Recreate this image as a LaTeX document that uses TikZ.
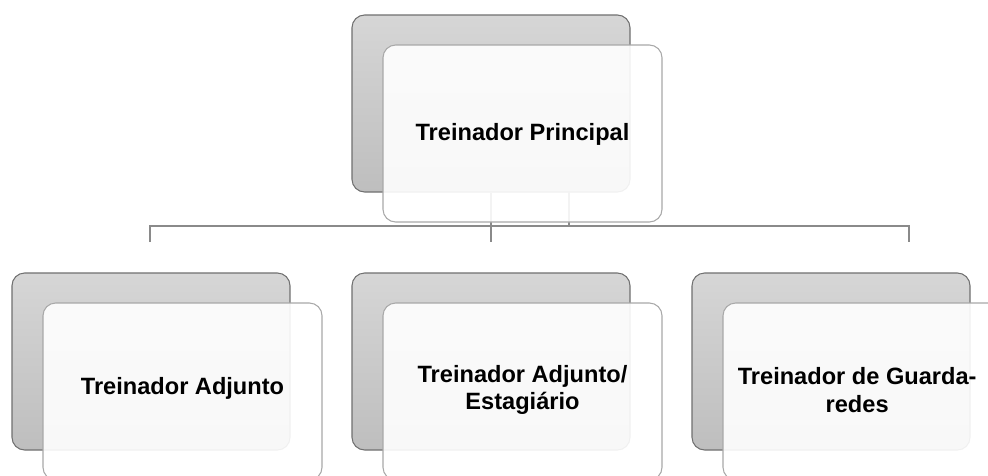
\documentclass[tikz,border=0pt]{standalone}
\usepackage{fontspec}
\setmainfont{Liberation Sans}
\definecolor{gtop}{HTML}{D6D6D6}
\definecolor{gbot}{HTML}{BEBEBE}
\definecolor{gedge}{HTML}{707070}
\definecolor{wedge}{HTML}{A8A8A8}
\definecolor{conn}{HTML}{8A8A8A}
\tikzset{
  graybox/.style={draw=gedge, line width=0.8pt, top color=gtop, bottom color=gbot,
    rounded corners=9.5pt, minimum width=208.5pt, minimum height=132.75pt, inner sep=0pt},
  whitebox/.style={draw=wedge, line width=0.8pt, fill=white, fill opacity=0.9,
    rounded corners=9.5pt, minimum width=209.25pt, minimum height=132.75pt, inner sep=0pt},
  boxtext/.style={font=\fontsize{17.7}{20.5}\selectfont\bfseries, align=center, text=black},
  connline/.style={draw=conn, line width=2.2pt}
}
\begin{document}
\begin{tikzpicture}[x=0.75pt, y=-0.75pt]
\useasboundingbox (0,0) rectangle (988,475);
\clip (0,0) rectangle (988,475);
\fill[white] (0,0) rectangle (988,475);
% gray back boxes
\node[graybox] (gtop) at (491,103.5) {};
\node[graybox] (g1) at (151,361.5) {};
\node[graybox] (g2) at (491,361.5) {};
\node[graybox] (g3) at (831,361.5) {};
% connectors
\coordinate (h1) at (150,226);
\coordinate (h3) at (909,226);
\coordinate (t1) at (150,242);
\coordinate (t2) at (491,242);
\coordinate (t3) at (909,242);
\coordinate (va) at (569,192);
\coordinate (vb) at (569,226);
\draw[connline] (t1) -- (h1) -- (h3) -- (t3);
\draw[connline] (gtop.south) -- (t2);
\draw[connline] (va) -- (vb);
% white front boxes
\node[whitebox] (wtop) at (522.5,133.5) {};
\node[whitebox] (w1) at (182.5,391.5) {};
\node[whitebox] (w2) at (522.5,391.5) {};
\node[whitebox] (w3) at (862.5,391.5) {};
% texts
\node[boxtext] (ltop) at ([yshift=-1pt]wtop.center) {Treinador Principal};
\node[boxtext] (l1) at ([yshift=2pt]w1.center) {Treinador Adjunto};
\node[boxtext] (l2) at ([yshift=1pt]w2.center) {Treinador Adjunto/\\Estagiário};
\node[boxtext] (l3) at ([xshift=-4pt,yshift=1pt]w3.center) {Treinador de Guarda-\\redes};
\end{tikzpicture}
\end{document}
